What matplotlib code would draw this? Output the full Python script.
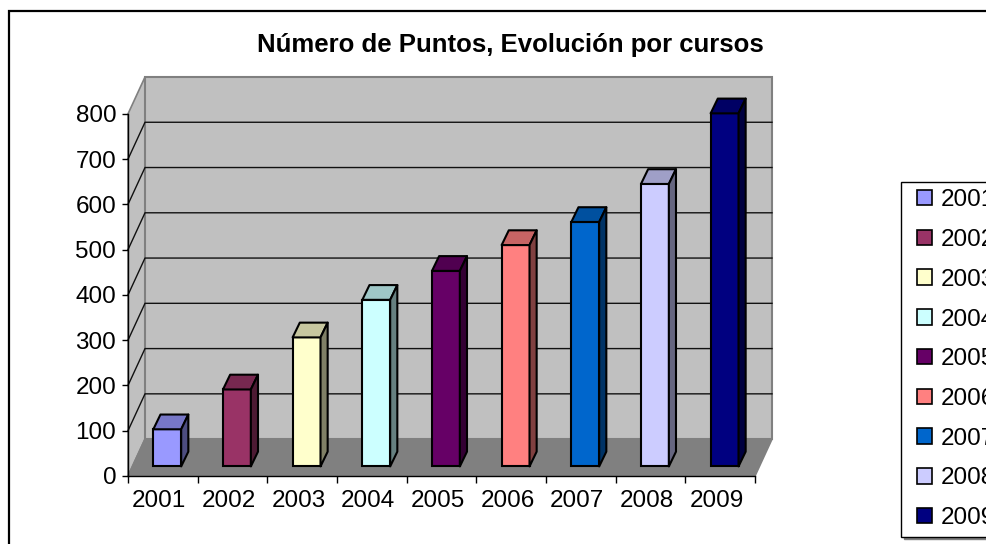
import matplotlib
matplotlib.use("Agg")
import matplotlib.pyplot as plt
from matplotlib.patches import Polygon, Rectangle, Patch
from matplotlib.legend_handler import HandlerPatch
from matplotlib.colors import to_rgb
import numpy as np

plt.rcParams['font.family'] = ['Liberation Sans', 'DejaVu Sans']

title = "Número de Puntos, Evolución por cursos"
categories = ["2001", "2002", "2003", "2004", "2005", "2006", "2007", "2008", "2009"]
values = [82, 170, 285, 368, 432, 489, 540, 624, 780]
colors = ["#9999FF", "#993366", "#FFFFCC", "#CCFFFF", "#660066",
          "#FF8080", "#0066CC", "#CCCCFF", "#000080"]
yticks = [0, 100, 200, 300, 400, 500, 600, 700, 800]

W, H = 987, 544
fig = plt.figure(figsize=(W / 100, H / 100), dpi=100)

# outer chart border (extends past right/bottom edges)
fig.patches.append(Rectangle((9 / W, -0.1), 1.2, 1 - 11 / H + 0.1, transform=fig.transFigure,
                             fill=False, edgecolor='black', lw=1.6))

ymax = yticks[-1]
n = len(categories)
# depth vector of the 3D box, in data units
Dx, Dy = 0.244, 81.5
ax = fig.add_axes([128 / W, (H - 476) / H, (772 - 128) / W, (476 - 77) / H])
ax.set_xlim(0, n + Dx)
ax.set_ylim(0, ymax + Dy)
ax.patch.set_visible(False)

wall = '#C0C0C0'
edge = '#808080'
# left wall
ax.add_patch(Polygon([(0, 0), (Dx, Dy), (Dx, ymax + Dy), (0, ymax)], closed=True,
                     facecolor=wall, edgecolor=edge, lw=1.2, zorder=0, clip_on=False))
# back wall
ax.add_patch(Rectangle((Dx, Dy), n, ymax, facecolor=wall, edgecolor=edge, lw=1.5,
                       zorder=0, clip_on=False))
# floor
ax.add_patch(Polygon([(0, 0), (n, 0), (n + Dx, Dy), (Dx, Dy)], closed=True,
                     facecolor='#808080', edgecolor=edge, lw=1.2, zorder=0.5, clip_on=False))
# gridlines
for v in yticks[1:-1]:
    ax.plot([0, Dx, n + Dx], [v, v + Dy, v + Dy], color='#111111', lw=1.0, zorder=0.6,
            clip_on=False)

# bars
f0 = 0.26
bw = 0.40
bdx, bdy = 0.42 * Dx, 0.40 * Dy
xs = np.arange(n) + 0.5 + f0 * Dx
bottom = f0 * Dy
bars = ax.bar(xs, values, width=bw, bottom=bottom, color=colors, edgecolor='black',
              lw=1.5, zorder=3)
for x, v, c in zip(xs, values, colors):
    rgb = np.array(to_rgb(c))
    xl, xr = x - bw / 2, x + bw / 2
    top = bottom + v
    ax.add_patch(Polygon([(xl, top), (xr, top), (xr + bdx, top + bdy), (xl + bdx, top + bdy)],
                         closed=True, facecolor=rgb * 0.78, edgecolor='black', lw=1.5,
                         zorder=3, joinstyle='round'))
    ax.add_patch(Polygon([(xr, bottom), (xr + bdx, bottom + bdy), (xr + bdx, top + bdy), (xr, top)],
                         closed=True, facecolor=rgb * 0.5, edgecolor='black', lw=1.5,
                         zorder=3, joinstyle='round'))

# axes spines / ticks
for s in ['top', 'right']:
    ax.spines[s].set_visible(False)
ax.spines['left'].set_bounds(0, ymax)
ax.spines['bottom'].set_bounds(0, n)
ax.spines['left'].set_linewidth(1.0)
ax.spines['bottom'].set_linewidth(1.0)
ax.spines['left'].set_zorder(5)
ax.spines['bottom'].set_zorder(5)

ax.set_yticks(yticks)
ax.set_yticklabels([str(t) for t in yticks])
ax.tick_params(axis='y', direction='out', length=4.5, width=1.0, pad=4, labelsize=17.5)
ax.set_xticks(np.arange(n + 1))
ax.set_xticklabels([])
ax.tick_params(axis='x', which='major', direction='out', length=5, width=1.0)
ax.set_xticks(np.arange(n) + 0.45, minor=True)
ax.set_xticklabels(categories, minor=True)
ax.tick_params(axis='x', which='minor', length=0, pad=10, labelsize=17.5)

fig.text(510 / W, 1 - 45 / H, title, ha='center', va='center', fontsize=18.5,
         fontweight='bold')


def square_patch(legend, orig_handle, xdescent, ydescent, width, height, fontsize):
    s = height
    return Rectangle((width - s - xdescent, -ydescent), s, s)


handles = [Patch(facecolor=c, edgecolor='black', lw=1.2) for c in colors]
leg = fig.legend(handles, categories, loc='upper left',
                 bbox_to_anchor=(901 / W, 1 - 182 / H), borderaxespad=0,
                 fontsize=17.5, frameon=True, fancybox=False, edgecolor='black',
                 handlelength=0.99, handleheight=0.6, handletextpad=0.33,
                 borderpad=0.3, labelspacing=0.73,
                 handler_map={Patch: HandlerPatch(patch_func=square_patch)},
                 shadow={'color': '#808080', 'alpha': 1.0})
leg.get_frame().set_linewidth(1.0)

fig.savefig('out.png', dpi=100)
